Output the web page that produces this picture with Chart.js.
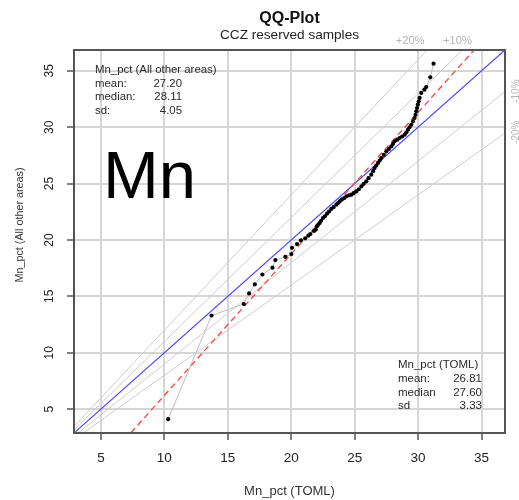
<!DOCTYPE html>
<html>
<head>
<meta charset="utf-8">
<script src="https://cdn.jsdelivr.net/npm/chart.js@4.4.0/dist/chart.umd.min.js"></script>
<style>
  html, body { margin: 0; padding: 0; background: #fff; }
</style>
</head>
<body>
<canvas id="qq" width="519" height="500"></canvas>
<script>
/******************************************************************
DATA
******************************************************************/

// sorted quantiles, TOML on x, all other areas on y
var tomlQ = [10.30, 13.72, 16.26, 16.68, 17.13, 17.73, 18.52, 18.75, 19.54, 20.01,
  20.06, 20.46, 20.77, 21.10, 21.35, 21.51, 21.80, 21.93, 22.02, 22.12,
  22.24, 22.36, 22.50, 22.65, 22.82, 22.98, 23.16, 23.35, 23.56, 23.70,
  23.82, 24.00, 24.18, 24.35, 24.55, 24.74, 24.92, 25.13, 25.33, 25.53,
  25.72, 25.92, 26.10, 26.31, 26.45, 26.57, 26.70, 26.84, 26.97, 27.10,
  27.30, 27.50, 27.70, 27.89, 28.02, 28.15, 28.35, 28.54, 28.74, 28.94,
  29.08, 29.20, 29.33, 29.46, 29.60, 29.72, 29.80, 29.86, 29.92, 29.98,
  30.05, 30.12, 30.25, 30.50, 30.64, 30.96, 31.22];
var otherQ = [4.11, 13.30, 14.32, 15.26, 16.06, 16.94, 17.54, 18.22, 18.51, 18.75,
  19.31, 19.64, 19.96, 20.15, 20.38, 20.53, 20.80, 20.91, 21.21, 21.35,
  21.50, 21.70, 21.95, 22.10, 22.33, 22.52, 22.75, 22.92, 23.13, 23.28,
  23.42, 23.58, 23.72, 23.87, 23.95, 24.02, 24.15, 24.31, 24.50, 24.75,
  24.98, 25.20, 25.48, 25.79, 26.10, 26.38, 26.60, 26.83, 27.05, 27.27,
  27.55, 27.86, 28.08, 28.30, 28.52, 28.75, 28.90, 29.04, 29.18, 29.34,
  29.55, 29.78, 30.00, 30.22, 30.52, 30.82, 31.10, 31.41, 31.70, 32.00,
  32.30, 32.60, 33.04, 33.33, 33.57, 34.43, 35.64];

var tickValues = [5, 10, 15, 20, 25, 30, 35];
var axisMin = 2.88;
var axisMax = 36.85;

// percentage guide lines  y = k * x
var guideRatios = [1.2, 1.1, 0.9, 0.8];
var guideLabels = ["+20%", "+10%", "-10%", "-20%"];
var guideLabelAt = [29.37, 33.1, 33.2, 29.56];

// quantile line through the quartiles
var qqSlope = 1.255;
var qqIntercept = -6.34;

var statsOther = ["Mn_pct (All other areas)", "mean:", "27.20", "median:", "28.11", "sd:", "4.05"];
var statsToml = ["Mn_pct (TOML)", "mean:", "26.81", "median", "27.60", "sd", "3.33"];

/******************************************************************
HELPERS
******************************************************************/

function linePoints(slope, intercept) {
  var pts = [];
  var ends = [0, 45];
  for (var i = 0; i < ends.length; i++) {
    pts.push({ x: ends[i], y: slope * ends[i] + intercept });
  }
  return pts;
}

var samplePoints = [];
for (var i = 0; i < tomlQ.length; i++) {
  samplePoints.push({ x: tomlQ[i], y: otherQ[i] });
}

var datasets = [];
datasets.push({
  data: samplePoints,
  showLine: true,
  borderColor: "#bdbdbd",
  borderWidth: 1,
  pointRadius: 2.1,
  pointBackgroundColor: "#000",
  pointBorderWidth: 0
});
datasets.push({
  data: linePoints(qqSlope, qqIntercept),
  showLine: true,
  borderColor: "#ff4040",
  borderWidth: 1.3,
  borderDash: [6, 4],
  pointRadius: 0
});
datasets.push({
  data: linePoints(1, 0),
  showLine: true,
  borderColor: "#4646ff",
  borderWidth: 1.2,
  pointRadius: 0
});
for (var g = 0; g < guideRatios.length; g++) {
  datasets.push({
    data: linePoints(guideRatios[g], 0),
    showLine: true,
    borderColor: "#cdcdcd",
    borderWidth: 1,
    pointRadius: 0
  });
}

/******************************************************************
TEXT PLUGIN
******************************************************************/

var textPlugin = {
  id: "qqText",
  afterDraw: function (chart) {
    var ctx = chart.ctx;
    var area = chart.chartArea;
    var xs = chart.scales.x;
    var ys = chart.scales.y;
    var font = "'Liberation Sans', Arial, sans-serif";
    ctx.save();

    // frame
    ctx.strokeStyle = "#555";
    ctx.lineWidth = 2;
    ctx.strokeRect(area.left, area.top, area.right - area.left, area.bottom - area.top);

    // titles
    ctx.fillStyle = "#111";
    ctx.textAlign = "center";
    ctx.textBaseline = "middle";
    ctx.font = "bold 16px " + font;
    ctx.fillText("QQ-Plot", (area.left + area.right) / 2, 19);
    ctx.font = "13.6px " + font;
    ctx.fillStyle = "#222";
    ctx.fillText("CCZ reserved samples", (area.left + area.right) / 2, 35);

    // tick labels
    ctx.fillStyle = "#222";
    ctx.font = "13.5px " + font;
    for (var i = 0; i < tickValues.length; i++) {
      ctx.fillText(String(tickValues[i]), xs.getPixelForValue(tickValues[i]), area.bottom + 25);
    }
    ctx.font = "12px " + font;
    for (var j = 0; j < tickValues.length; j++) {
      ctx.save();
      ctx.translate(area.left - 24, ys.getPixelForValue(tickValues[j]));
      ctx.rotate(-Math.PI / 2);
      ctx.fillText(String(tickValues[j]), 0, 0);
      ctx.restore();
    }

    // axis titles
    ctx.fillStyle = "#333";
    ctx.font = "13px " + font;
    ctx.fillText("Mn_pct (TOML)", (area.left + area.right) / 2, 491);
    ctx.save();
    ctx.translate(20, 225);
    ctx.rotate(-Math.PI / 2);
    ctx.font = "10.8px " + font;
    ctx.fillText("Mn_pct (All other areas)", 0, 0);
    ctx.restore();

    // guide labels
    ctx.fillStyle = "#b4b4b4";
    ctx.font = "11.2px " + font;
    for (var k = 0; k < guideLabels.length; k++) {
      if (guideRatios[k] > 1) {
        ctx.fillText(guideLabels[k], xs.getPixelForValue(guideLabelAt[k]), area.top - 9);
      } else {
        ctx.save();
        ctx.translate(area.right + 11, ys.getPixelForValue(guideLabelAt[k]));
        ctx.rotate(-Math.PI / 2);
        ctx.font = "10px " + font;
        ctx.fillText(guideLabels[k], 0, 0);
        ctx.restore();
      }
    }

    // stats boxes
    ctx.fillStyle = "#2a2a2a";
    ctx.font = "11.4px " + font;
    ctx.textAlign = "left";
    ctx.fillText(statsOther[0], 95, 70);
    for (var r = 0; r < 3; r++) {
      ctx.textAlign = "left";
      ctx.fillText(statsOther[1 + r * 2], 95, 83.5 + r * 13.5);
      ctx.textAlign = "right";
      ctx.fillText(statsOther[2 + r * 2], 182, 83.5 + r * 13.5);
    }
    ctx.font = "11.5px " + font;
    ctx.textAlign = "left";
    ctx.fillText(statsToml[0], 398, 365);
    for (var s = 0; s < 3; s++) {
      ctx.textAlign = "left";
      ctx.fillText(statsToml[1 + s * 2], 398, 379 + s * 13.5);
      ctx.textAlign = "right";
      ctx.fillText(statsToml[2 + s * 2], 482, 379 + s * 13.5);
    }

    // element label
    ctx.fillStyle = "#000";
    ctx.textAlign = "left";
    ctx.textBaseline = "alphabetic";
    ctx.font = "67px " + font;
    ctx.fillText("Mn", 103, 198);

    ctx.restore();
  }
};

/******************************************************************
CHART
******************************************************************/

var qqChart = new Chart(document.getElementById("qq").getContext("2d"), {
  type: "scatter",
  data: { datasets: datasets },
  options: {
    responsive: false,
    animation: false,
    layout: { padding: { left: 67, right: 14, top: 50, bottom: 60 } },
    plugins: { legend: { display: false }, tooltip: { enabled: false } },
    scales: {
      x: {
        type: "linear",
        min: axisMin,
        max: axisMax,
        afterBuildTicks: function (axis) {
          axis.ticks = tickValues.map(function (v) { return { value: v }; });
        },
        ticks: { display: false },
        grid: { color: "#d6d6d6", lineWidth: 2, tickLength: 7, tickColor: "#555", tickWidth: 1.5 },
        border: { display: true, color: "#555", width: 2 }
      },
      y: {
        type: "linear",
        min: axisMin,
        max: axisMax,
        afterBuildTicks: function (axis) {
          axis.ticks = tickValues.map(function (v) { return { value: v }; });
        },
        ticks: { display: false },
        grid: { color: "#d6d6d6", lineWidth: 2, tickLength: 7, tickColor: "#555", tickWidth: 1.5 },
        border: { display: true, color: "#555", width: 2 }
      }
    }
  },
  plugins: [textPlugin]
});
</script>
</body>
</html>
